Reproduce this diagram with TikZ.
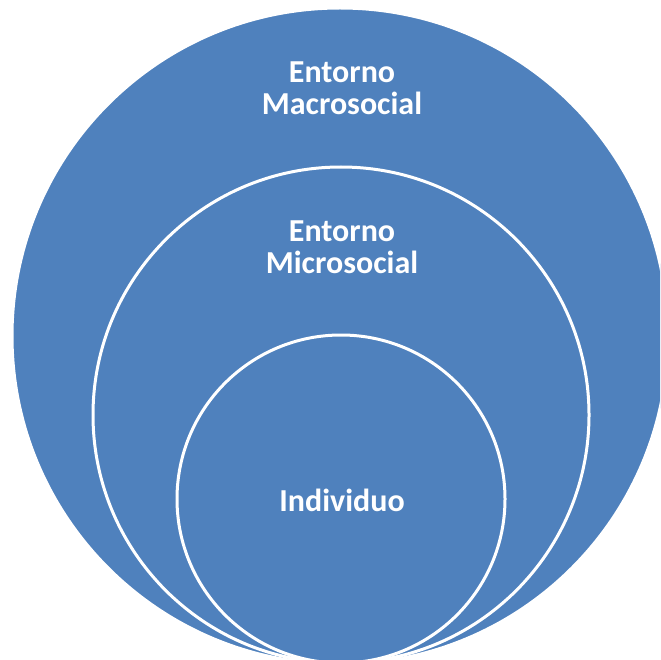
\documentclass[tikz,border=0pt]{standalone}
\usepackage{fontspec}
\setmainfont{Carlito}
\definecolor{ringblue}{HTML}{4F81BD}
\begin{document}
\begin{tikzpicture}[x=1pt,y=-1pt,
  ring/.style={circle, fill=ringblue, draw=white, line width=3pt, inner sep=0pt},
  lbl/.style={text=white, font=\fontsize{32}{32}\selectfont\bfseries, align=center, inner sep=0pt}]
\useasboundingbox (0,0) rectangle (660,660);
\clip (0,0) rectangle (660,660);
\node[ring, minimum size=656pt] (outer) at (340,336) {};
\node[ring, minimum size=496pt] (middle) at (341,415) {};
\node[ring, minimum size=328pt] (inner) at (341,499) {};
\node[lbl] (macro) at (342,88) {Entorno\\Macrosocial};
\node[lbl] (micro) at (342,247) {Entorno\\Microsocial};
\node[lbl] (indiv) at (342,500) {Individuo};
\end{tikzpicture}
\end{document}
